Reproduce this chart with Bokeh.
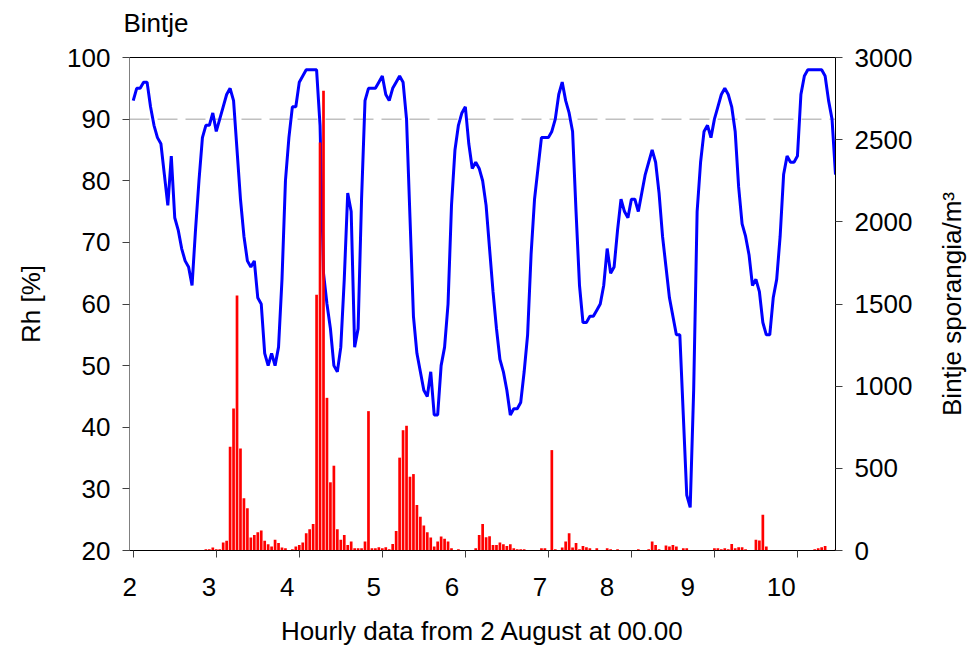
from bokeh.plotting import figure
from bokeh.layouts import row, column
from bokeh.models import Range1d, LinearAxis, FixedTicker, Span, CustomJSTickFormatter, Label
from bokeh.embed import file_html
from bokeh.resources import INLINE

# Hourly relative humidity (%) from 2 August 00.00
rh = [93, 95, 95, 96, 96, 92, 89, 87, 86, 81,
      76, 84, 74, 72, 69, 67, 66, 63, 72, 80,
      87, 89, 89, 91, 88, 90, 92, 94, 95, 93,
      85, 77, 71, 67, 66, 67, 61, 60, 52, 50,
      52, 50, 53, 64, 80, 87, 92, 92, 96, 97,
      98, 98, 98, 98, 89, 65, 60, 56, 50, 49,
      53, 64, 78, 75, 53, 56, 77, 93, 95, 95,
      95, 96, 97, 94, 93, 95, 96, 97, 96, 90,
      74, 58, 52, 49, 46, 45, 49, 42, 42, 50,
      53, 60, 76, 85, 89, 91, 92, 86, 82, 83,
      82, 80, 76, 69, 62, 56, 51, 49, 46, 42,
      43, 43, 44, 49, 55, 68, 77, 82, 87, 87,
      87, 88, 90, 94, 96, 93, 91, 88, 75, 63,
      57, 57, 58, 58, 59, 60, 63, 69, 65, 66,
      72, 77, 75, 74, 77, 77, 75, 78, 81, 83,
      85, 83, 78, 71, 66, 61, 58, 55, 55, 42,
      29, 27, 46, 75, 83, 88, 89, 87, 90, 92,
      94, 95, 94, 92, 88, 79, 73, 71, 68, 63,
      64, 62, 57, 55, 55, 61, 64, 71, 81, 84,
      83, 83, 84, 94, 97, 98, 98, 98, 98, 98,
      97, 93, 90, 81]

# Hourly Bintje sporangia per m3
spor = [0, 0, 0, 0, 0, 0, 0, 0, 0, 0,
        0, 0, 0, 0, 0, 0, 0, 0, 0, 0, 0,
        8, 8, 18, 8, 8, 49, 59, 631, 864, 1552,
        621, 318, 257, 79, 95, 111, 121, 59, 38, 24,
        65, 45, 18, 14, 0, 8, 24, 34, 49, 105,
        130, 162, 1556, 2483, 2797, 929, 415, 516, 130, 65,
        95, 34, 55, 14, 14, 14, 55, 848, 14, 14,
        20, 14, 20, 8, 40, 119, 565, 732, 759, 449,
        465, 277, 206, 152, 111, 79, 24, 55, 85, 71,
        55, 14, 0, 8, 0, 0, 0, 0, 14, 95,
        162, 81, 87, 34, 34, 49, 38, 28, 38, 14,
        8, 8, 8, 0, 0, 0, 0, 14, 14, 0,
        611, 8, 0, 18, 55, 105, 18, 45, 8, 28,
        20, 14, 0, 14, 0, 0, 14, 8, 0, 8,
        0, 0, 0, 0, 0, 8, 0, 0, 8, 55,
        34, 8, 0, 30, 24, 34, 24, 0, 14, 14,
        0, 0, 0, 0, 0, 0, 0, 14, 14, 8,
        14, 8, 40, 14, 20, 20, 8, 0, 0, 65,
        61, 217, 24, 0, 0, 0, 0, 0, 0, 0,
        0, 0, 0, 0, 0, 0, 8, 14, 20, 28,
        0, 0, 4]

day_ticks = [2, 3, 4, 5, 6, 7, 8, 9, 10]
day_labels = ["2", "3", "4", "5", "6", "7", "8", "9", "10"]
label_pos = [1.958, 2.913, 3.856, 4.897, 5.839, 6.900, 7.705, 8.679, 9.805]
rh_ticks = [20, 30, 40, 50, 60, 70, 80, 90, 100]
spor_ticks = [0, 500, 1000, 1500, 2000, 2500, 3000]

hours = list(range(len(rh)))
x = [2 + h / 24 for h in hours]

FONT = "Liberation Sans"
FS = "26px"
HEAD_H = 40
SIDE_W = 38
TOP_B = 17
BOT_B = 97

# header with the chart title
head = figure(width=968, height=HEAD_H, output_backend="svg", toolbar_location=None,
              x_range=Range1d(0, 968), y_range=Range1d(0, HEAD_H),
              x_axis_type=None, y_axis_type=None, min_border=0,
              min_border_left=0, min_border_right=0, min_border_top=0, min_border_bottom=0)
head.xgrid.visible = False
head.ygrid.visible = False
head.outline_line_color = None
head.add_layout(Label(x=123, y=18, text="Bintje", text_align="left", text_baseline="alphabetic",
                      text_font=FONT, text_font_size=FS, text_color="black"))

# main chart
p = figure(width=968 - SIDE_W, height=648 - HEAD_H, output_backend="svg", toolbar_location=None,
           x_range=Range1d(1.955, 2 + 203 / 24), y_range=Range1d(20, 100),
           min_border_left=129, min_border_right=95, min_border_top=TOP_B, min_border_bottom=BOT_B)
p.extra_y_ranges = {"spor": Range1d(0, 3000)}
p.xgrid.visible = False
p.ygrid.visible = False
p.outline_line_color = "black"
p.outline_line_width = 1
p.background_fill_color = "white"
p.border_fill_color = "white"

p.add_layout(Span(location=90, dimension="width", line_color="#c0c0c0",
                  line_dash="20 8", line_width=1.5, level="underlay"))

p.line(x, rh, line_color="#0000ff", line_width=3)
p.vbar(x=x, top=spor, bottom=0, width=0.78 / 24, fill_color="#ff0000",
       line_color=None, y_range_name="spor")

# bottom axis: day tick marks as minor ticks, labels at their printed positions
xa = p.xaxis[0]
xa.ticker = FixedTicker(ticks=label_pos, minor_ticks=day_ticks)
xa.formatter = CustomJSTickFormatter(
    args=dict(labels=day_labels, pos=label_pos),
    code="const i = pos.indexOf(tick); return i >= 0 ? labels[i] : '';")
xa.major_tick_line_color = None
xa.major_tick_out = 7
xa.major_tick_in = 0
xa.minor_tick_line_color = "#404040"
xa.minor_tick_out = 7
xa.minor_tick_in = 0
xa.axis_line_color = "black"
xa.major_label_standoff = 20
xa.axis_label = "Hourly data from 2 August at 00.00"
xa.axis_label_standoff = 17

ya = p.yaxis[0]
ya.ticker = FixedTicker(ticks=rh_ticks)
ya.axis_label = "Rh [%]"
ya.axis_line_color = "#808080"
ya.major_tick_line_color = "#404040"
ya.axis_label_standoff = 18

ya2 = LinearAxis(y_range_name="spor", ticker=FixedTicker(ticks=spor_ticks))
ya2.axis_line_color = "black"
ya2.major_tick_line_color = "#404040"
p.add_layout(ya2, "right")

for ax in (ya, ya2):
    ax.major_tick_out = 7
    ax.major_tick_in = 0
    ax.minor_tick_line_color = None
    ax.major_label_standoff = 12

for ax in (xa, ya, ya2):
    ax.major_label_text_font = FONT
    ax.major_label_text_font_size = FS
    ax.major_label_text_color = "black"
    ax.axis_label_text_font = FONT
    ax.axis_label_text_font_size = FS
    ax.axis_label_text_font_style = "normal"
    ax.axis_label_text_color = "black"

# right-hand axis title (reads bottom to top), drawn as the label of a tick-less axis
side = figure(width=SIDE_W, height=648 - HEAD_H, output_backend="svg", toolbar_location=None,
              x_range=Range1d(0, 1), y_range=Range1d(0, 3000), x_axis_type=None,
              min_border_left=36, min_border_right=2, min_border_top=TOP_B, min_border_bottom=BOT_B)
side.xgrid.visible = False
side.ygrid.visible = False
side.outline_line_color = None
sa = side.yaxis[0]
sa.ticker = FixedTicker(ticks=[])
sa.axis_line_color = None
sa.major_tick_line_color = None
sa.minor_tick_line_color = None
sa.major_tick_out = 0
sa.major_tick_in = 0
sa.major_label_standoff = 0
sa.axis_label = "Bintje sporangia/m³"
sa.axis_label_standoff = 0
sa.axis_label_text_font = FONT
sa.axis_label_text_font_size = FS
sa.axis_label_text_font_style = "normal"
sa.axis_label_text_color = "black"

layout = column(head, row(p, side, spacing=0), spacing=0)

open("out.html", "w").write(file_html(layout, INLINE))
